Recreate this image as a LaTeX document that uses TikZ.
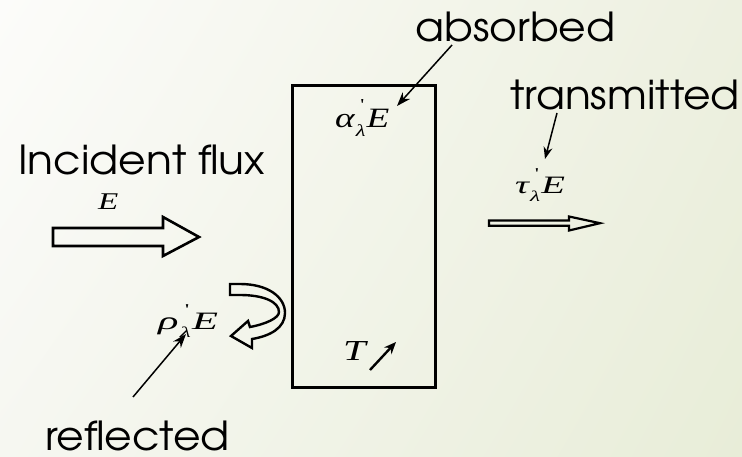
\documentclass[tikz,border=0pt]{standalone}
\usepackage{fontspec}
\setmainfont{TeX Gyre Adventor}
\newfontfamily\lblserif[Ligatures=TeXOff]{Liberation Serif}
\usetikzlibrary{arrows.meta,shadings}
\newcommand{\prsub}{\rlap{\kern0.12em\raisebox{0.62em}{\scalebox{0.6}{\upshape'}}}\raisebox{-0.3em}{\scalebox{0.6}{λ}}}
\newcommand{\flq}[1]{{\lblserif\itshape #1\kern0.03em\prsub\kern0.03em E}}
\newcommand{\sanstxt}[1]{\scalebox{1.06}[1]{\fontsize{40}{48}\selectfont #1}}
\definecolor{bgTL}{RGB}{252,252,250}
\definecolor{bgTR}{RGB}{237,240,224}
\definecolor{bgBL}{RGB}{246,247,241}
\definecolor{bgBR}{RGB}{232,237,216}
\tikzset{
  sanslbl/.style={inner sep=0pt, anchor=base west},
  mlbl/.style={inner sep=0pt, anchor=base west},
  slabbox/.style={draw, line width=3pt, minimum width=143.5pt, minimum height=301.5pt, inner sep=0pt},
  hollow/.style={draw, line width=2.6pt, line join=miter},
  thinarr/.style={line width=1.5pt, -{Stealth[length=14pt, width=10pt]}},
  tarr/.style={line width=2.4pt, -{Stealth[length=12pt, width=10pt]}}
}
\begin{document}
\begin{tikzpicture}[x=1pt, y=-1pt]
\useasboundingbox (0,0) rectangle (742,457);
\shade[upper left=bgTL, upper right=bgTR, lower left=bgBL, lower right=bgBR] (0,0) rectangle (742,457);

% slab
\node[slabbox] (slab) at (363.75,236.75) {};

% texts
\node[sanslbl] (absorbed) at (415,42) {\sanstxt{absorbed}};
\node[sanslbl] (transmitted) at (510,110) {\sanstxt{transmitted}};
\node[sanslbl] (incident) at (18,175) {\sanstxt{Incident flux}};
\node[sanslbl] (reflected) at (45,450) {\sanstxt{reflected}};

\node[mlbl] (Einc) at (98,210) {\scalebox{1.38}[1]{\lblserif\itshape\fontsize{24}{28}\selectfont E}};
\node[mlbl] (alphaE) at (335,128) {\scalebox{1.33}[1]{\fontsize{28}{33}\selectfont\flq{α}}};
\node[mlbl] (tauE) at (515,194) {\scalebox{1.55}[1]{\fontsize{25}{30}\selectfont\flq{τ}}};
\node[mlbl] (rhoE) at (158,330) {\scalebox{1.7}[1]{\fontsize{25}{30}\selectfont\flq{ρ}}};
\node[mlbl] (Tlbl) at (343,360) {\scalebox{1.4}[1]{\lblserif\itshape\fontsize{29}{34}\selectfont T}};

% block arrows
\draw[hollow] (53,228) -- (163,228) -- (163,217) -- (199,237) -- (163,256) -- (163,246) -- (53,246) -- cycle;
\draw[hollow, line width=2.2pt] (489,220.5) -- (569,220.5) -- (569,216.5) -- (600,223.2) -- (569,230.5) -- (569,225.8) -- (489,225.8) -- cycle;

% curved reflected block arrow
\draw[hollow, line width=2.4pt] (230,284) -- (240,284) .. controls (268,284) and (285,297) .. (285,313)
  .. controls (285,328) and (270,336) .. (252,339) -- (252,348) -- (231,336) -- (248,321) -- (250,327)
  .. controls (266,324) and (279,318) .. (279,312) .. controls (279,302) and (264,295) .. (240,295)
  -- (230,295) -- cycle;

% pointer arrows
\coordinate (absFrom) at (452,45);
\coordinate (absTo) at (397,106);
\draw[thinarr] (absFrom) -- (absTo);
\coordinate (trFrom) at (557,113);
\coordinate (trTo) at (545,159);
\draw[thinarr, -{Stealth[length=12pt, width=9pt]}] (trFrom) -- (trTo);
\coordinate (refFrom) at (133,397);
\coordinate (refTo) at (186,334);
\draw[thinarr] (refFrom) -- (refTo);
\coordinate (tFrom) at (370,370);
\coordinate (tTo) at (396,342);
\draw[tarr] (tFrom) -- (tTo);
\end{tikzpicture}
\end{document}
